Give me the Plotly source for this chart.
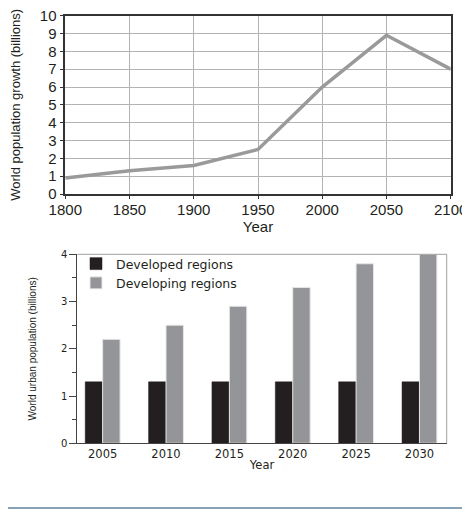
import plotly.graph_objects as go

# world population, billions
pop_years = [1800, 1850, 1900, 1950, 2000, 2050, 2100]
pop_values = [0.9, 1.3, 1.6, 2.5, 6.0, 8.9, 7.0]

# urban population, billions
urban_years = ["2005", "2010", "2015", "2020", "2025", "2030"]
developed = [1.3, 1.3, 1.3, 1.3, 1.3, 1.3]
developing = [2.2, 2.5, 2.9, 3.3, 3.8, 4.0]

# the page body has an 8px margin at the left/top
PAD = 8
W, H = 470 - PAD, 512 - PAD

def px_x(p):
    return (p - PAD) / W

def px_y(p):
    return 1 - (p - PAD) / H

fig = go.Figure()

# top chart: line
fig.add_trace(go.Scatter(x=pop_years, y=pop_values, mode="lines",
                         line=dict(color="#9a9a9a", width=3.5),
                         showlegend=False, xaxis="x", yaxis="y"))

# bottom chart: grouped bars
fig.add_trace(go.Bar(x=urban_years, y=developed, name="Developed regions",
                     marker=dict(color="#231f20", line=dict(color="#231f20", width=0.5)),
                     xaxis="x2", yaxis="y2"))
fig.add_trace(go.Bar(x=urban_years, y=developing, name="Developing regions",
                     marker=dict(color="#939598", line=dict(color="#e6e6e6", width=1)),
                     xaxis="x2", yaxis="y2"))

font_top = dict(family="Liberation Sans, Arial, sans-serif", size=15, color="#231f20")
font_bot = dict(family="DejaVu Sans, Verdana, sans-serif", size=11.5, color="#231f20")

fig.update_layout(
    width=W, height=H,
    margin=dict(l=0, r=0, t=0, b=0),
    paper_bgcolor="white", plot_bgcolor="white",
    barmode="group", bargap=0.45, bargroupgap=0,
    xaxis=dict(domain=[px_x(65.3), px_x(450.7)], anchor="y", automargin=False,
               range=[1800, 2100], dtick=50, tick0=1800,
               showgrid=True, gridcolor="#b3b3b3", gridwidth=1,
               showline=True, linecolor="#333333", linewidth=1.5, mirror=True,
               ticks="outside", ticklen=3, tickcolor="#333333",
               ticklabelstandoff=-2, ticklabeloverflow="allow",
               tickfont=font_top, zeroline=False,
               title=dict(text="Year", font=font_top, standoff=0)),
    yaxis=dict(domain=[px_y(194), px_y(15.7)], anchor="x", automargin=False,
               range=[0, 10], dtick=1,
               showgrid=True, gridcolor="#b3b3b3", gridwidth=1,
               showline=True, linecolor="#333333", linewidth=1.5, mirror=True,
               ticks="outside", ticklen=4, tickcolor="#333333",
               ticklabeloverflow="allow",
               tickfont=font_top, zeroline=False,
               title=dict(text="World population growth (billions)",
                          font=dict(family="Liberation Sans, Arial, sans-serif",
                                    size=13, color="#231f20"), standoff=16)),
    xaxis2=dict(domain=[px_x(77.3), px_x(446.7)], anchor="y2", automargin=False,
                type="category", range=[-0.4, 5.43],
                showgrid=False, showline=True, linecolor="#444444", linewidth=1,
                ticks="", tickfont=font_bot, ticklabeloverflow="allow",
                title=dict(text="Year", font=font_bot, standoff=0)),
    yaxis2=dict(domain=[px_y(443.3), px_y(254.3)], anchor="x2", automargin=False,
                range=[0, 4], dtick=1,
                showgrid=False, showline=True, linecolor="#444444", linewidth=1,
                ticks="outside", ticklen=7, tickcolor="#444444",
                minor=dict(dtick=0.5, ticks="outside", ticklen=4, tickcolor="#444444"),
                tickfont=dict(family="DejaVu Sans, Verdana, sans-serif", size=10, color="#231f20"),
                ticklabeloverflow="allow", zeroline=False,
                title=dict(text="World urban population (billions)",
                           font=dict(family="Liberation Sans Narrow, Arial Narrow, Liberation Sans, sans-serif",
                                     size=10, color="#231f20"), standoff=22)),
    legend=dict(x=px_x(76), y=px_y(249), xanchor="left", yanchor="top",
                bgcolor="rgba(0,0,0,0)", font=dict(family="DejaVu Sans, Verdana, sans-serif",
                                                    size=12.5, color="#231f20"),
                tracegroupgap=0, itemwidth=30),
)

# light grey top and right frame of the bar chart
fig.add_shape(type="line", xref="x2 domain", yref="y2 domain", x0=0, x1=1, y0=1, y1=1,
              line=dict(color="#a0a0a0", width=1))
fig.add_shape(type="line", xref="x2 domain", yref="y2 domain", x0=1, x1=1, y0=0, y1=1,
              line=dict(color="#a0a0a0", width=1))

# page separator line at the bottom
fig.add_shape(type="line", xref="paper", yref="paper", x0=-0.05, x1=1.05,
              y0=px_y(508), y1=px_y(508), line=dict(color="#8aa2b8", width=2))

fig.write_html("out.html")
